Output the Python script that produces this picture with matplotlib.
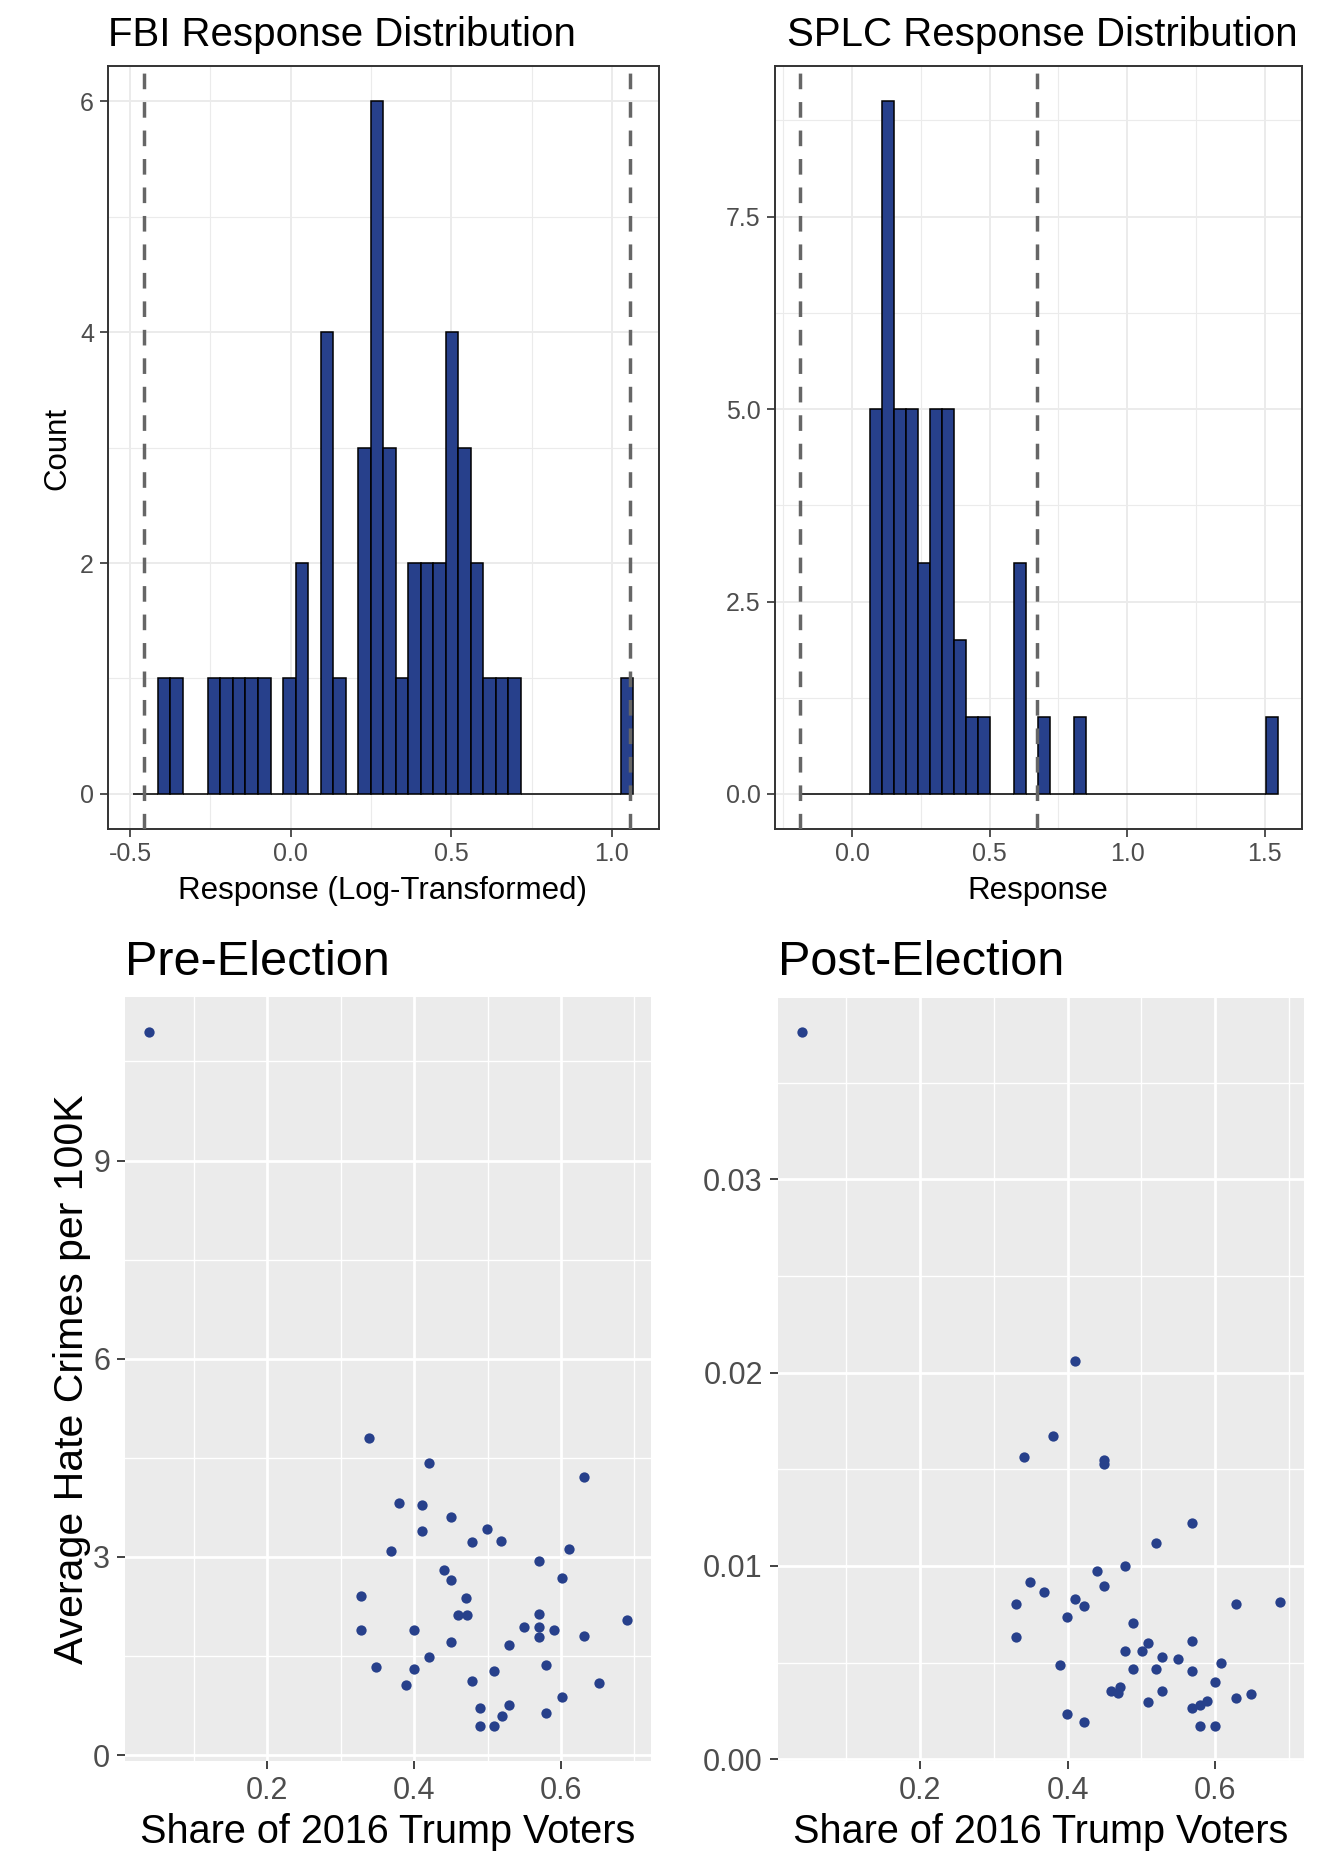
import numpy as np
import matplotlib
matplotlib.use('Agg')
import matplotlib.pyplot as plt

plt.rcParams['font.family'] = ['Liberation Sans', 'DejaVu Sans']
plt.rcParams['axes.unicode_minus'] = False

W, H = 1332, 1871
BLUE = '#27408B'

# ---- histogram data (40 bins each) ----
fbi_range = (-0.491, 1.067)
fbi_counts = [0, 0, 1, 1, 0, 0, 1, 1, 1, 1,
              1, 0, 1, 2, 0, 4, 1, 0, 3, 6,
              3, 1, 2, 2, 2, 4, 3, 2, 1, 1,
              1, 0, 0, 0, 0, 0, 0, 0, 0, 1]
fbi_cutoffs = [-0.455, 1.055]

splc_range = (-0.194, 1.547)
splc_counts = [0, 0, 0, 0, 0, 0, 5, 9, 5, 5,
               3, 5, 5, 2, 1, 1, 0, 0, 3, 0,
               1, 0, 0, 1, 0, 0, 0, 0, 0, 0,
               0, 0, 0, 0, 0, 0, 0, 0, 0, 1]
splc_cutoffs = [-0.19, 0.672]

# ---- scatter data ----
pre_share = [0.039, 0.338, 0.420, 0.631, 0.379, 0.410, 0.450, 0.499, 0.410, 0.479,
             0.518, 0.369, 0.611, 0.570, 0.440, 0.450, 0.601, 0.328, 0.471, 0.460,
             0.472, 0.570, 0.690, 0.328, 0.400, 0.550, 0.570, 0.591, 0.570, 0.631,
             0.450, 0.529, 0.420, 0.348, 0.400, 0.580, 0.509, 0.389, 0.479, 0.652,
             0.601, 0.489, 0.529, 0.519, 0.580, 0.489, 0.509]
pre_rate = [10.95, 4.80, 4.415, 4.205, 3.82, 3.79, 3.605, 3.423, 3.395, 3.219,
            3.247, 3.092, 3.12, 2.944, 2.80, 2.646, 2.679, 2.415, 2.376, 2.117,
            2.117, 2.139, 2.045, 1.897, 1.897, 1.935, 1.935, 1.897, 1.781, 1.808,
            1.715, 1.660, 1.483, 1.329, 1.302, 1.368, 1.269, 1.065, 1.12, 1.092,
            0.883, 0.707, 0.762, 0.585, 0.64, 0.437, 0.437]

post_share = [0.040, 0.410, 0.380, 0.341, 0.449, 0.449, 0.569, 0.520, 0.478, 0.440,
              0.349, 0.449, 0.368, 0.410, 0.422, 0.330, 0.629, 0.688, 0.399, 0.489,
              0.330, 0.569, 0.509, 0.478, 0.501, 0.528, 0.550, 0.608, 0.390, 0.489,
              0.520, 0.569, 0.600, 0.471, 0.459, 0.468, 0.528, 0.629, 0.649, 0.509,
              0.589, 0.580, 0.569, 0.399, 0.422, 0.580, 0.600]
post_rate = [0.0376, 0.02062, 0.01674, 0.01562, 0.01548, 0.01528, 0.01224, 0.01121, 0.0100, 0.00972,
             0.00916, 0.00897, 0.00867, 0.00828, 0.00795, 0.00803, 0.00803, 0.00816, 0.00734, 0.00703,
             0.00634, 0.00610, 0.00600, 0.00559, 0.00559, 0.00528, 0.00519, 0.00498, 0.00490, 0.00467,
             0.00467, 0.00459, 0.00398, 0.00376, 0.00355, 0.00341, 0.00355, 0.00316, 0.00338, 0.00295,
             0.00303, 0.00279, 0.00264, 0.00234, 0.00191, 0.00171, 0.00171]


def px_axes(fig, left, right, top, bottom):
    return fig.add_axes([left / W, 1 - bottom / H, (right - left) / W, (bottom - top) / H])


def padded(lo, hi, frac=0.05):
    d = (hi - lo) * frac
    return lo - d, hi + d


def style_bw(ax, tick_size):
    ax.set_facecolor('white')
    for sp in ax.spines.values():
        sp.set_color('#333333')
        sp.set_linewidth(1.4)
    ax.grid(which='major', color='#EBEBEB', linewidth=1.4)
    ax.grid(which='minor', color='#EBEBEB', linewidth=0.8)
    ax.set_axisbelow(True)
    ax.tick_params(which='major', length=5.5, width=1.2, color='#333333',
                   labelcolor='#4D4D4D', labelsize=tick_size, pad=4.5)
    ax.tick_params(which='minor', length=0)


def style_gray(ax, tick_size):
    ax.set_facecolor('#EBEBEB')
    for sp in ax.spines.values():
        sp.set_visible(False)
    ax.grid(which='major', color='white', linewidth=2.0)
    ax.grid(which='minor', color='white', linewidth=1.0)
    ax.set_axisbelow(True)
    ax.tick_params(which='major', length=5.5, width=1.3, color='#333333',
                   labelcolor='#4D4D4D', labelsize=tick_size, pad=5.5)
    ax.tick_params(which='minor', length=0)


def histogram(ax, rng, counts, cutoffs):
    edges = np.linspace(rng[0], rng[1], len(counts) + 1)
    ax.bar(edges[:-1], counts, width=np.diff(edges), align='edge',
           color=BLUE, edgecolor='black', linewidth=1.1, zorder=2)
    for c in cutoffs:
        ax.axvline(c, color='#666666', linewidth=2.5, linestyle=(0, (4.5, 3.7)), zorder=3)
    ax.set_xlim(*padded(min(edges[0], min(cutoffs)), max(edges[-1], max(cutoffs))))
    ax.set_ylim(*padded(0, max(counts)))


fig = plt.figure(figsize=(W / 100, H / 100), dpi=100)

# ---- FBI histogram ----
ax1 = px_axes(fig, 107.8, 658.5, 66.5, 828.6)
histogram(ax1, fbi_range, fbi_counts, fbi_cutoffs)
ax1.set_xticks([-0.5, 0.0, 0.5, 1.0], ['-0.5', '0.0', '0.5', '1.0'])
ax1.set_xticks([-0.25, 0.25, 0.75], minor=True)
ax1.set_yticks([0, 2, 4, 6], ['0', '2', '4', '6'])
ax1.set_yticks([1, 3, 5], minor=True)
style_bw(ax1, 18)

# ---- SPLC histogram ----
ax2 = px_axes(fig, 774.7, 1301.5, 66.5, 828.6)
histogram(ax2, splc_range, splc_counts, splc_cutoffs)
ax2.set_xticks([0.0, 0.5, 1.0, 1.5], ['0.0', '0.5', '1.0', '1.5'])
ax2.set_xticks([-0.25, 0.25, 0.75, 1.25], minor=True)
ax2.set_yticks([0, 2.5, 5, 7.5], ['0.0', '2.5', '5.0', '7.5'])
ax2.set_yticks([1.25, 3.75, 6.25, 8.75], minor=True)
style_bw(ax2, 18)

# ---- Pre-election scatter ----
ax3 = px_axes(fig, 125.3, 651.0, 997.0, 1761.0)
ax3.scatter(pre_share, pre_rate, s=55, color=BLUE, linewidths=0, zorder=3)
ax3.set_xlim(*padded(min(pre_share), max(pre_share)))
ax3.set_ylim(*padded(min(pre_rate), max(pre_rate)))
ax3.set_xticks([0.2, 0.4, 0.6], ['0.2', '0.4', '0.6'])
ax3.set_xticks([0.1, 0.3, 0.5, 0.7], minor=True)
ax3.set_yticks([0, 3, 6, 9], ['0', '3', '6', '9'])
ax3.set_yticks([1.5, 4.5, 7.5, 10.5], minor=True)
style_gray(ax3, 22)

# ---- Post-election scatter ----
ax4 = px_axes(fig, 778.1, 1303.8, 997.6, 1761.0)
ax4.scatter(post_share, post_rate, s=55, color=BLUE, linewidths=0, zorder=3)
ax4.set_xlim(*padded(min(post_share), max(post_share)))
ax4.set_ylim(*padded(min(post_rate), max(post_rate)))
ax4.set_xticks([0.2, 0.4, 0.6], ['0.2', '0.4', '0.6'])
ax4.set_xticks([0.1, 0.3, 0.5, 0.7], minor=True)
ax4.set_yticks([0, 0.01, 0.02, 0.03], ['0.00', '0.01', '0.02', '0.03'])
ax4.set_yticks([0.005, 0.015, 0.025, 0.035], minor=True)
style_gray(ax4, 22)

# ---- titles and axis labels ----
def ftext(x, y, s, **kw):
    fig.text(x / W, 1 - y / H, s, **kw)

ftext(107.8, 46.5, 'FBI Response Distribution', fontsize=29, ha='left', va='baseline')
ftext(787, 46.5, 'SPLC Response Distribution', fontsize=29, ha='left', va='baseline')
ftext(383, 899, 'Response (Log-Transformed)', fontsize=22.5, ha='center', va='baseline')
ftext(1038, 899, 'Response', fontsize=22.5, ha='center', va='baseline')
ftext(57, 448, 'Count', fontsize=22.5, ha='center', va='center', rotation=90)

ftext(125.3, 975, 'Pre-Election', fontsize=35, ha='left', va='baseline')
ftext(778.1, 975, 'Post-Election', fontsize=35, ha='left', va='baseline')
ftext(388, 1843, 'Share of 2016 Trump Voters', fontsize=28.5, ha='center', va='baseline')
ftext(1041, 1843, 'Share of 2016 Trump Voters', fontsize=28.5, ha='center', va='baseline')
ftext(72, 1379, 'Average Hate Crimes per 100K', fontsize=29.5, ha='center', va='center', rotation=90)

fig.savefig('out.png', dpi=100)
